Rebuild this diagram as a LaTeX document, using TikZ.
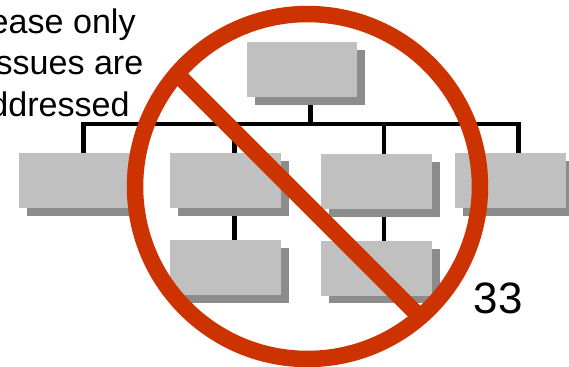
\documentclass[tikz,border=0pt]{standalone}
\usepackage{fontspec}
\setmainfont{Liberation Sans}
\usetikzlibrary{shadows,backgrounds}
\definecolor{orgbox}{HTML}{C0C0C0}
\definecolor{orgshade}{HTML}{8C8C8C}
\definecolor{banred}{HTML}{CC3300}
\tikzset{
  orgnode/.style={fill=orgbox, minimum width=2.22cm, minimum height=1.1cm, inner sep=0pt, outer sep=0pt,
    drop shadow={shadow xshift=0.16cm, shadow yshift=-0.16cm, fill=orgshade, opacity=1}},
  wire/.style={draw=black, line width=0.09cm},
  ban/.style={draw=banred, line width=0.33cm},
  note/.style={font=\fontsize{19.4pt}{23pt}\selectfont, anchor=base east, inner sep=0pt},
  pageno/.style={font=\fontsize{25pt}{30pt}\selectfont, anchor=base east, inner sep=0pt},
}
\begin{document}
\begin{tikzpicture}[x=0.02cm, y=-0.02cm]
    \useasboundingbox (0,0) rectangle (569,366);
    \node[note] (lineone) at (136,33) {ease only};
    \node[note] (linetwo) at (143.7,74) {ssues are};
    \node[note] (linethree) at (130,116) {ddressed};
    \node[orgnode] (top) at (302,69.5) {};
    \node[orgnode] (boxa) at (74.5,180.5) {};
    \node[orgnode] (boxb) at (225.5,180.5) {};
    \node[orgnode] (boxc) at (376.5,181.5) {};
    \node[orgnode] (boxd) at (510.5,180.5) {};
    \node[orgnode] (boxe) at (225.5,267.5) {};
    \node[orgnode] (boxf) at (376.5,268) {};
    \coordinate (busl) at (83.5,124);
    \coordinate (busr) at (518.5,124);
    \coordinate (stem) at (310.5,124);
    \coordinate (tapb) at (234.5,124);
    \coordinate (tapc) at (384,124);
    \begin{scope}[on background layer]
      \draw[wire] (busl |- boxa.north) -- (busl) -- (busr) -- (busr |- boxd.north);
      \draw[wire] (top.south -| stem) -- (stem);
      \draw[wire] (tapb) -- (tapb |- boxb.north);
      \draw[wire] (tapc) -- (tapc |- boxc.north);
      \draw[wire] (boxb.south -| tapb) -- (boxe.north -| tapb);
      \draw[wire] (boxc.south -| tapc) -- (boxf.north -| tapc);
    \end{scope}
    \node[ban, circle, minimum size=6.9cm, inner sep=0pt, outer sep=0pt] (ring) at (307.5,186.5) {};
    \coordinate (slasha) at (177,74);
    \coordinate (slashb) at (420,317);
    \draw[ban] (slasha) -- (slashb);
    \node[pageno] (pagenum) at (523,313.7) {33};
  \end{tikzpicture}
\end{document}
